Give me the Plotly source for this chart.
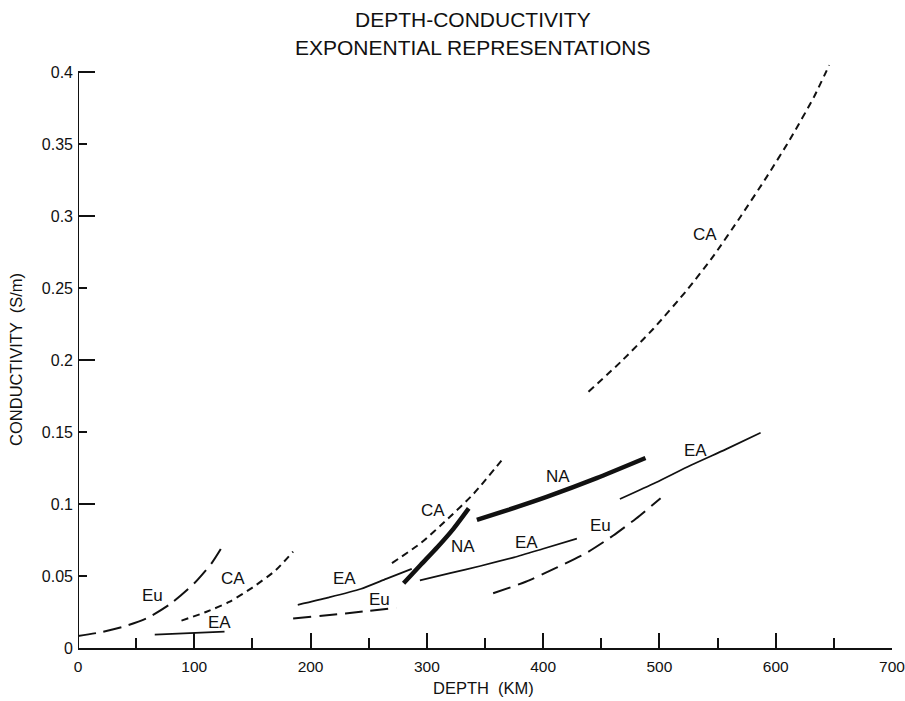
import plotly.graph_objects as go

# ---------------- data ----------------
eu1_x = [0, 20, 40, 60, 80, 100, 115, 126]
eu1_y = [0.0083, 0.011, 0.015, 0.021, 0.031, 0.045, 0.059, 0.073]

ca1_x = [89, 110, 130, 150, 170, 185]
ca1_y = [0.019, 0.025, 0.032, 0.042, 0.054, 0.067]

ea1_x = [66, 126]
ea1_y = [0.0093, 0.0114]

ea2_x = [189, 215, 243, 265, 287]
ea2_y = [0.030, 0.035, 0.041, 0.048, 0.055]

eu2_x = [185, 230, 274]
eu2_y = [0.0205, 0.024, 0.028]

ca2_x = [270, 295, 317, 340, 367]
ca2_y = [0.059, 0.073, 0.089, 0.107, 0.133]

na1_x = [280, 295, 309, 323, 336]
na1_y = [0.045, 0.058, 0.070, 0.083, 0.097]

ea3_x = [294, 320, 346, 375, 400, 429]
ea3_y = [0.047, 0.052, 0.057, 0.063, 0.069, 0.076]

na2_x = [343, 370, 403, 446, 488]
na2_y = [0.089, 0.096, 0.105, 0.118, 0.132]

eu3_x = [357, 385, 412, 437, 460, 480, 501]
eu3_y = [0.038, 0.046, 0.056, 0.066, 0.078, 0.090, 0.104]

ea4_x = [466, 497, 527, 557, 587]
ea4_y = [0.1035, 0.115, 0.127, 0.138, 0.1495]

ca3_x = [439, 467, 495, 524, 547, 570, 592, 612, 633, 646]
ca3_y = [0.178, 0.199, 0.222, 0.249, 0.273, 0.300, 0.327, 0.353, 0.383, 0.405]

label_text = ["Eu", "CA", "EA", "EA", "Eu", "CA", "NA", "EA", "NA", "Eu", "EA", "CA"]
label_x = [64, 133.5, 122, 229.6, 259.7, 305.7, 331.4, 386, 413, 449.6, 530.8, 539.4]
label_y = [0.0368, 0.0486, 0.0176, 0.048, 0.0338, 0.0958, 0.0704, 0.0731, 0.119, 0.0854, 0.1375, 0.287]

x_tickvals = [0, 100, 200, 300, 400, 500, 600, 700]
x_ticktext = ["0", "100", "200", "300", "400", "500", "600", "700"]
y_tickvals = [0, 0.05, 0.1, 0.15, 0.2, 0.25, 0.3, 0.35, 0.4]
y_ticktext = ["0", "0.05", "0.1", "0.15", "0.2", "0.25", "0.3", "0.35", "0.4"]
y_long_ticks = [0.1, 0.2, 0.3, 0.4]

title_lines = ["DEPTH-CONDUCTIVITY", "EXPONENTIAL REPRESENTATIONS"]
x_title = "DEPTH  (KM)"
y_title = "CONDUCTIVITY  (S/m)"

# ---------------- styles ----------------
FONT = "Liberation Sans, Arial, Helvetica, sans-serif"
INK = "#111111"
EU_STYLE = dict(color=INK, width=2, dash="18px,8px")
CA_STYLE = dict(color=INK, width=2, dash="7px,5px")
EA_STYLE = dict(color=INK, width=1.7)
NA_STYLE = dict(color=INK, width=4.5)

series = [
    (eu1_x, eu1_y, EU_STYLE), (ca1_x, ca1_y, CA_STYLE), (ea1_x, ea1_y, EA_STYLE),
    (ea2_x, ea2_y, EA_STYLE), (eu2_x, eu2_y, EU_STYLE), (ca2_x, ca2_y, CA_STYLE),
    (na1_x, na1_y, NA_STYLE), (ea3_x, ea3_y, EA_STYLE), (na2_x, na2_y, NA_STYLE),
    (eu3_x, eu3_y, EU_STYLE), (ea4_x, ea4_y, EA_STYLE), (ca3_x, ca3_y, CA_STYLE),
]

fig = go.Figure()
for xs, ys, st in series:
    fig.add_trace(go.Scatter(x=xs, y=ys, mode="lines", line=dict(shape="spline", smoothing=0.6, **st),
                             showlegend=False, hoverinfo="skip", cliponaxis=False))

# dummy trace on the overlay axis (for long ticks)
fig.add_trace(go.Scatter(x=[None], y=[None], yaxis="y2", showlegend=False))

annotations = []
for t, lx, ly in zip(label_text, label_x, label_y):
    annotations.append(dict(x=lx, y=ly, xref="x", yref="y", text=t, showarrow=False,
                            font=dict(family=FONT, size=17, color=INK)))

annotations.append(dict(x=0.4855, y=1.06, xref="paper", yref="paper", text=title_lines[0],
                        showarrow=False, font=dict(family=FONT, size=21, color=INK),
                        xanchor="center", yanchor="middle"))
annotations.append(dict(x=0.4855, y=1.013, xref="paper", yref="paper", text=title_lines[1],
                        showarrow=False, font=dict(family=FONT, size=21, color=INK),
                        xanchor="center", yanchor="middle"))
annotations.append(dict(x=0.4985, y=-0.0675, xref="paper", yref="paper", text=x_title,
                        showarrow=False, font=dict(family=FONT, size=16.5, color=INK),
                        xanchor="center", yanchor="middle"))
annotations.append(dict(x=-0.076, y=0.486, xref="paper", yref="paper", text=y_title,
                        showarrow=False, textangle=-90, font=dict(family=FONT, size=16.5, color=INK),
                        xanchor="center", yanchor="middle"))

YR = [0, 0.412]

fig.update_layout(
    width=905, height=701,
    margin=dict(l=78, r=13, t=55, b=53, autoexpand=False),
    paper_bgcolor="white", plot_bgcolor="white",
    showlegend=False,
    annotations=annotations,
    xaxis=dict(range=[0, 700], tickmode="array", tickvals=x_tickvals, ticktext=x_ticktext,
               ticks="inside", ticklen=15, tickwidth=2, tickcolor=INK,
               minor=dict(dtick=50, ticks="inside", ticklen=10, tickwidth=2, tickcolor=INK),
               showline=True, linecolor=INK, linewidth=2, showgrid=False, zeroline=False,
               automargin=False, ticklabeloverflow="allow",
               tickfont=dict(family=FONT, size=15.5, color=INK), ticklabelstandoff=3),
    yaxis=dict(range=YR, tickmode="array", tickvals=y_tickvals, ticktext=y_ticktext,
               ticks="inside", ticklen=9, tickwidth=2, tickcolor=INK,
               showline=False, showgrid=False, zeroline=False, automargin=False,
               ticklabeloverflow="allow",
               tickfont=dict(family=FONT, size=16, color=INK), ticklabelstandoff=4),
    yaxis2=dict(range=YR, overlaying="y", side="left", anchor="x", tickmode="array",
                tickvals=y_long_ticks, ticks="inside", ticklen=17, tickwidth=2, tickcolor=INK,
                showticklabels=False, showline=False, showgrid=False, zeroline=False,
                automargin=False),
    shapes=[dict(type="line", xref="x", yref="y", x0=0, x1=0, y0=0, y1=0.4,
                 line=dict(color=INK, width=2))],
)

# remove the default page margin so the figure fills the 905x701 window exactly
fig.write_html("out.html",
               config={"displayModeBar": False, "staticPlot": True},
               post_script="document.body.style.margin='0px';document.body.style.overflow='hidden';")
